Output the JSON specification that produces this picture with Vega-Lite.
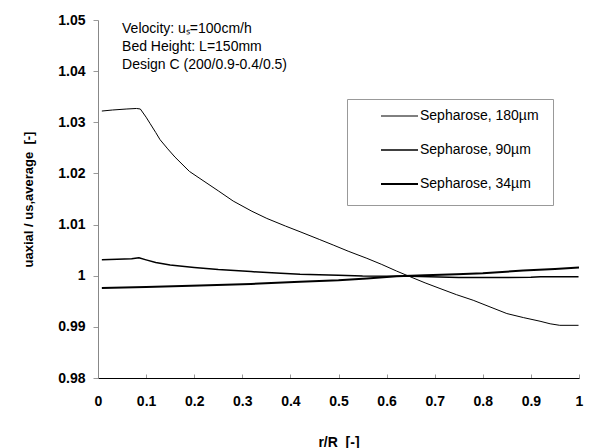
{
  "$schema": "https://vega.github.io/schema/vega-lite/v6.json",
  "width": 481,
  "height": 358,
  "autosize": {"type": "none"},
  "padding": {"left": 98, "top": 20, "right": 12, "bottom": 70},
  "background": "white",
  "config": {
    "view": {"stroke": null},
    "font": "Liberation Sans",
    "axis": {
      "grid": false,
      "labelFont": "Liberation Sans",
      "labelFontWeight": "bold",
      "labelFontSize": 14,
      "labelColor": "black",
      "titleFont": "Liberation Sans",
      "titleFontWeight": "bold",
      "titleColor": "black"
    }
  },
  "datasets": {
    "curves": [
      {"series": "Sepharose, 180µm", "x": 0.008, "y": 1.0322},
      {"series": "Sepharose, 180µm", "x": 0.03, "y": 1.0324},
      {"series": "Sepharose, 180µm", "x": 0.06, "y": 1.0326},
      {"series": "Sepharose, 180µm", "x": 0.08, "y": 1.0327},
      {"series": "Sepharose, 180µm", "x": 0.088, "y": 1.0326},
      {"series": "Sepharose, 180µm", "x": 0.1, "y": 1.031},
      {"series": "Sepharose, 180µm", "x": 0.108, "y": 1.0298},
      {"series": "Sepharose, 180µm", "x": 0.12, "y": 1.028},
      {"series": "Sepharose, 180µm", "x": 0.129, "y": 1.0266},
      {"series": "Sepharose, 180µm", "x": 0.145, "y": 1.0248},
      {"series": "Sepharose, 180µm", "x": 0.16, "y": 1.0232},
      {"series": "Sepharose, 180µm", "x": 0.19, "y": 1.0204},
      {"series": "Sepharose, 180µm", "x": 0.212, "y": 1.019},
      {"series": "Sepharose, 180µm", "x": 0.25, "y": 1.0166},
      {"series": "Sepharose, 180µm", "x": 0.281, "y": 1.0146},
      {"series": "Sepharose, 180µm", "x": 0.32, "y": 1.0126},
      {"series": "Sepharose, 180µm", "x": 0.351, "y": 1.0112},
      {"series": "Sepharose, 180µm", "x": 0.39, "y": 1.0097},
      {"series": "Sepharose, 180µm", "x": 0.42, "y": 1.0086},
      {"series": "Sepharose, 180µm", "x": 0.46, "y": 1.0071},
      {"series": "Sepharose, 180µm", "x": 0.489, "y": 1.006},
      {"series": "Sepharose, 180µm", "x": 0.52, "y": 1.0048},
      {"series": "Sepharose, 180µm", "x": 0.559, "y": 1.0034},
      {"series": "Sepharose, 180µm", "x": 0.59, "y": 1.0022},
      {"series": "Sepharose, 180µm", "x": 0.621, "y": 1.0009},
      {"series": "Sepharose, 180µm", "x": 0.649, "y": 0.9998},
      {"series": "Sepharose, 180µm", "x": 0.68, "y": 0.9986},
      {"series": "Sepharose, 180µm", "x": 0.711, "y": 0.9975},
      {"series": "Sepharose, 180µm", "x": 0.745, "y": 0.9963},
      {"series": "Sepharose, 180µm", "x": 0.78, "y": 0.9952},
      {"series": "Sepharose, 180µm", "x": 0.815, "y": 0.9939},
      {"series": "Sepharose, 180µm", "x": 0.85, "y": 0.9926},
      {"series": "Sepharose, 180µm", "x": 0.885, "y": 0.9918},
      {"series": "Sepharose, 180µm", "x": 0.919, "y": 0.9911},
      {"series": "Sepharose, 180µm", "x": 0.94, "y": 0.9906},
      {"series": "Sepharose, 180µm", "x": 0.96, "y": 0.9903},
      {"series": "Sepharose, 180µm", "x": 0.999, "y": 0.9903},
      {"series": "Sepharose, 90µm", "x": 0.008, "y": 1.0031},
      {"series": "Sepharose, 90µm", "x": 0.04, "y": 1.0032},
      {"series": "Sepharose, 90µm", "x": 0.07, "y": 1.0033},
      {"series": "Sepharose, 90µm", "x": 0.085, "y": 1.0035},
      {"series": "Sepharose, 90µm", "x": 0.1, "y": 1.0031},
      {"series": "Sepharose, 90µm", "x": 0.12, "y": 1.0026},
      {"series": "Sepharose, 90µm", "x": 0.15, "y": 1.0021},
      {"series": "Sepharose, 90µm", "x": 0.2, "y": 1.0016},
      {"series": "Sepharose, 90µm", "x": 0.25, "y": 1.0012},
      {"series": "Sepharose, 90µm", "x": 0.318, "y": 1.0008},
      {"series": "Sepharose, 90µm", "x": 0.38, "y": 1.0005},
      {"series": "Sepharose, 90µm", "x": 0.42, "y": 1.0003},
      {"series": "Sepharose, 90µm", "x": 0.5, "y": 1.0001},
      {"series": "Sepharose, 90µm", "x": 0.55, "y": 0.99995},
      {"series": "Sepharose, 90µm", "x": 0.65, "y": 0.9999},
      {"series": "Sepharose, 90µm", "x": 0.75, "y": 0.99966},
      {"series": "Sepharose, 90µm", "x": 0.9, "y": 0.99968},
      {"series": "Sepharose, 90µm", "x": 0.92, "y": 0.99978},
      {"series": "Sepharose, 90µm", "x": 0.999, "y": 0.99978},
      {"series": "Sepharose, 34µm", "x": 0.008, "y": 0.9976},
      {"series": "Sepharose, 34µm", "x": 0.1, "y": 0.9978},
      {"series": "Sepharose, 34µm", "x": 0.212, "y": 0.9981},
      {"series": "Sepharose, 34µm", "x": 0.318, "y": 0.9984},
      {"series": "Sepharose, 34µm", "x": 0.42, "y": 0.9988},
      {"series": "Sepharose, 34µm", "x": 0.5, "y": 0.9991},
      {"series": "Sepharose, 34µm", "x": 0.559, "y": 0.99945},
      {"series": "Sepharose, 34µm", "x": 0.621, "y": 0.9999},
      {"series": "Sepharose, 34µm", "x": 0.68, "y": 1.0001},
      {"series": "Sepharose, 34µm", "x": 0.746, "y": 1.0003},
      {"series": "Sepharose, 34µm", "x": 0.8, "y": 1.0005},
      {"series": "Sepharose, 34µm", "x": 0.884, "y": 1.001},
      {"series": "Sepharose, 34µm", "x": 0.95, "y": 1.0013},
      {"series": "Sepharose, 34µm", "x": 1.0, "y": 1.0016}
    ],
    "notes": [
      {"x": 0.05, "y": 1.0482, "text": "Velocity: uₛ=100cm/h"},
      {"x": 0.05, "y": 1.0447, "text": "Bed Height: L=150mm"},
      {"x": 0.05, "y": 1.0412, "text": "Design C (200/0.9-0.4/0.5)"}
    ]
  },
  "layer": [
    {
      "data": {"name": "curves"},
      "mark": {"type": "line", "color": "black", "strokeJoin": "round"},
      "encoding": {
        "x": {
          "field": "x", "type": "quantitative",
          "scale": {"domain": [0, 1], "nice": false, "zero": false},
          "axis": {
            "title": "r/R\u00a0 [-]",
            "titleFontSize": 14,
            "titlePadding": 27,
            "values": [0, 0.1, 0.2, 0.3, 0.4, 0.5, 0.6, 0.7, 0.8, 0.9, 1],
            "format": ".1~f",
            "domainColor": "black",
            "tickColor": "#999999",
            "tickSize": -4,
            "labelPadding": 20,
            "labelFlush": false
          }
        },
        "y": {
          "field": "y", "type": "quantitative",
          "scale": {"domain": [0.98, 1.05], "nice": false, "zero": false},
          "axis": {
            "title": "uaxial / us,average\u00a0 [-]",
            "titleFontSize": 13,
            "titlePadding": 22,
            "values": [0.98, 0.99, 1, 1.01, 1.02, 1.03, 1.04, 1.05],
            "format": ".2~f",
            "domainColor": "#888888",
            "tickColor": "#999999",
            "tickSize": 5,
            "labelPadding": 8,
            "labelFlush": false
          }
        },
        "detail": {"field": "series"},
        "strokeWidth": {
          "field": "series", "type": "nominal",
          "scale": {
            "domain": ["Sepharose, 180µm", "Sepharose, 90µm", "Sepharose, 34µm"],
            "range": [1, 2, 3.5]
          },
          "legend": {
            "title": null,
            "orient": "none",
            "legendX": 249,
            "legendY": 79,
            "strokeColor": "#999999",
            "fillColor": "white",
            "padding": 14,
            "clipHeight": 6,
            "symbolType": "stroke",
            "symbolSize": 1369,
            "symbolStrokeColor": "black",
            "symbolOffset": 19,
            "labelFontSize": 14,
            "labelFont": "Liberation Sans",
            "labelColor": "black",
            "labelOffset": 1,
            "rowPadding": 20
          }
        }
      }
    },
    {
      "data": {"name": "notes"},
      "mark": {"type": "text", "align": "left", "baseline": "middle", "fontSize": 14, "font": "Liberation Sans", "color": "black"},
      "encoding": {
        "x": {"field": "x", "type": "quantitative"},
        "y": {"field": "y", "type": "quantitative"},
        "text": {"field": "text"}
      }
    }
  ]
}
